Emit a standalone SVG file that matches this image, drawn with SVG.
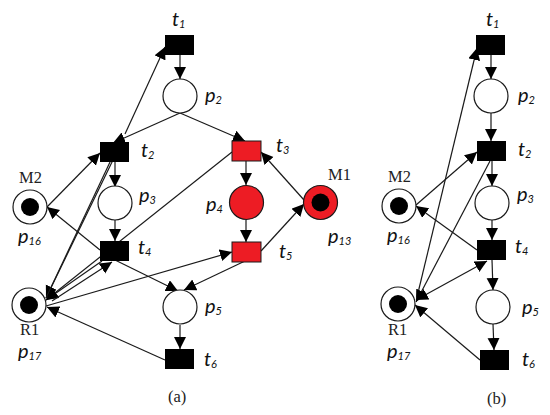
<svg xmlns="http://www.w3.org/2000/svg" width="550" height="415" viewBox="0 0 550 415">
<style>
.e{fill:none;stroke:#1a1a1a;stroke-width:1.2;marker-end:url(#a)}
.b{marker-start:url(#s)}
.n{fill:none;stroke:#1a1a1a;stroke-width:1.2}
.p{fill:#fff;stroke:#1a1a1a;stroke-width:1.2}
.pr{fill:#ed1c24;stroke:#1a1a1a;stroke-width:1.2}
.t{fill:#000}
.tr{fill:#ed1c24;stroke:#1a1a1a;stroke-width:1}
.d{fill:#000}
.l{font-family:"Lato","Open Sans",sans-serif;font-style:italic;font-size:20px;fill:#111}
.l tspan{font-size:11px}
.s{font-family:"Liberation Serif",serif;font-size:16.500px;fill:#222}
</style>
<defs>
<marker id="a" markerUnits="userSpaceOnUse" markerWidth="13" markerHeight="13" refX="12" refY="6" orient="auto"><polygon points="0,0 12,6 0,12" fill="#000"/></marker>
<marker id="s" markerUnits="userSpaceOnUse" markerWidth="13" markerHeight="13" refX="12" refY="6" orient="auto-start-reverse"><polygon points="0,0 12,6 0,12" fill="#000"/></marker>
</defs>
<g id="connectors">
<line class="e" x1="180" y1="55" x2="180" y2="79"/>
<line class="e" x1="180" y1="113" x2="113" y2="143"/>
<line class="e" x1="125" y1="134" x2="165" y2="47"/>
<line class="e" x1="180" y1="113" x2="245" y2="141"/>
<line class="e" x1="115" y1="161" x2="115" y2="187"/>
<line class="e" x1="115" y1="220" x2="115" y2="241"/>
<line class="e" x1="47" y1="207" x2="100" y2="153"/>
<line class="e" x1="100" y1="250" x2="47" y2="207"/>
<line class="e" x1="112.500" y1="161" x2="46" y2="298"/>
<line class="n" x1="110.500" y1="161" x2="46" y2="298"/>
<line class="e" x1="232" y1="152" x2="46" y2="300"/>
<line class="e" x1="102" y1="261" x2="46" y2="300"/>
<line class="e" x1="52" y1="301" x2="112" y2="262"/>
<line class="e" x1="46" y1="306" x2="232" y2="252"/>
<line class="e" x1="115" y1="260" x2="178" y2="291"/>
<line class="e" x1="245" y1="261" x2="184" y2="290"/>
<line class="e" x1="180" y1="325" x2="180" y2="349"/>
<line class="e" x1="165" y1="360" x2="47" y2="307"/>
<line class="e" x1="246" y1="161" x2="246" y2="185"/>
<line class="e" x1="246" y1="220" x2="246" y2="242"/>
<line class="e" x1="261" y1="251" x2="304" y2="204"/>
<line class="e" x1="304" y1="200" x2="261" y2="152"/>
<line class="e" x1="491" y1="55" x2="491" y2="79"/>
<line class="e" x1="491" y1="113" x2="491" y2="141"/>
<line class="e" x1="492" y1="161" x2="492" y2="186"/>
<line class="e" x1="492" y1="220" x2="492" y2="240"/>
<line class="e" x1="492" y1="260" x2="493" y2="290"/>
<line class="e" x1="493" y1="324" x2="494" y2="350"/>
<line class="e" x1="416" y1="205" x2="477" y2="152"/>
<line class="e" x1="477" y1="250" x2="416" y2="206"/>
<line class="e" x1="417" y1="297" x2="477" y2="48"/>
<line class="e" x1="490" y1="161" x2="416" y2="302"/>
<line class="e b" x1="416" y1="300" x2="487" y2="261"/>
<line class="e" x1="480" y1="360" x2="415" y2="305"/>
</g>
<g id="a-t1"><rect class="t" x="165" y="35" width="29" height="20"/><text class="l" x="172" y="26">t<tspan dy="2">1</tspan></text></g>
<g id="a-p2"><circle class="p" cx="180" cy="96" r="17"/><text class="l" x="205" y="102">p<tspan dy="2">2</tspan></text></g>
<g id="a-t2"><rect class="t" x="100" y="142" width="29" height="20"/><text class="l" x="141" y="157">t<tspan dy="2">2</tspan></text></g>
<g id="a-p3"><circle class="p" cx="115" cy="203" r="17"/><text class="l" x="139" y="202">p<tspan dy="2">3</tspan></text></g>
<g id="a-t4"><rect class="t" x="100" y="241" width="29" height="20"/><text class="l" x="138" y="254">t<tspan dy="2">4</tspan></text></g>
<g id="a-p5"><circle class="p" cx="180" cy="307" r="17"/><text class="l" x="205" y="313">p<tspan dy="2">5</tspan></text></g>
<g id="a-t6"><rect class="t" x="165" y="349" width="29" height="20"/><text class="l" x="204" y="366">t<tspan dy="2">6</tspan></text></g>
<g id="a-t3"><rect class="tr" x="232" y="141" width="29" height="20"/><text class="l" x="276" y="152">t<tspan dy="2">3</tspan></text></g>
<g id="a-p4"><circle class="pr" cx="246.500" cy="202.500" r="17"/><text class="l" x="206" y="211">p<tspan dy="2">4</tspan></text></g>
<g id="a-t5"><rect class="tr" x="232" y="242" width="29" height="20"/><text class="l" x="279" y="258">t<tspan dy="2">5</tspan></text></g>
<g id="a-p13"><circle class="pr" cx="320.500" cy="202.500" r="17"/><circle class="d" cx="320.500" cy="202.500" r="9"/><text class="s" x="328" y="180">M1</text><text class="l" x="328" y="243">p<tspan dy="2">13</tspan></text></g>
<g id="a-p16"><circle class="p" cx="30" cy="207" r="17"/><circle class="d" cx="30" cy="207" r="9"/><text class="s" x="19" y="183">M2</text><text class="l" x="18" y="243">p<tspan dy="2">16</tspan></text></g>
<g id="a-p17"><circle class="p" cx="29" cy="305" r="17"/><circle class="d" cx="29" cy="305" r="9"/><text class="s" x="20" y="335">R1</text><text class="l" x="18" y="358">p<tspan dy="2">17</tspan></text></g>
<g id="b-t1"><rect class="t" x="476" y="35" width="29" height="20"/><text class="l" x="486" y="26">t<tspan dy="2">1</tspan></text></g>
<g id="b-p2"><circle class="p" cx="491" cy="96" r="17"/><text class="l" x="518" y="102">p<tspan dy="2">2</tspan></text></g>
<g id="b-t2"><rect class="t" x="477" y="141" width="29" height="20"/><text class="l" x="518" y="156">t<tspan dy="2">2</tspan></text></g>
<g id="b-p3"><circle class="p" cx="492" cy="203" r="17"/><text class="l" x="517" y="201">p<tspan dy="2">3</tspan></text></g>
<g id="b-t4"><rect class="t" x="477" y="240" width="29" height="20"/><text class="l" x="515" y="253">t<tspan dy="2">4</tspan></text></g>
<g id="b-p5"><circle class="p" cx="493" cy="307" r="17"/><text class="l" x="522" y="314">p<tspan dy="2">5</tspan></text></g>
<g id="b-t6"><rect class="t" x="480" y="350" width="29" height="20"/><text class="l" x="522" y="366">t<tspan dy="2">6</tspan></text></g>
<g id="b-p16"><circle class="p" cx="399" cy="206" r="17"/><circle class="d" cx="399" cy="206" r="9"/><text class="s" x="388" y="182">M2</text><text class="l" x="387" y="242">p<tspan dy="2">16</tspan></text></g>
<g id="b-p17"><circle class="p" cx="398" cy="304" r="17"/><circle class="d" cx="398" cy="304" r="9"/><text class="s" x="388" y="335">R1</text><text class="l" x="387" y="358">p<tspan dy="2">17</tspan></text></g>
<text class="s" x="168" y="402">(a)</text>
<text class="s" x="487" y="404">(b)</text>
</svg>
